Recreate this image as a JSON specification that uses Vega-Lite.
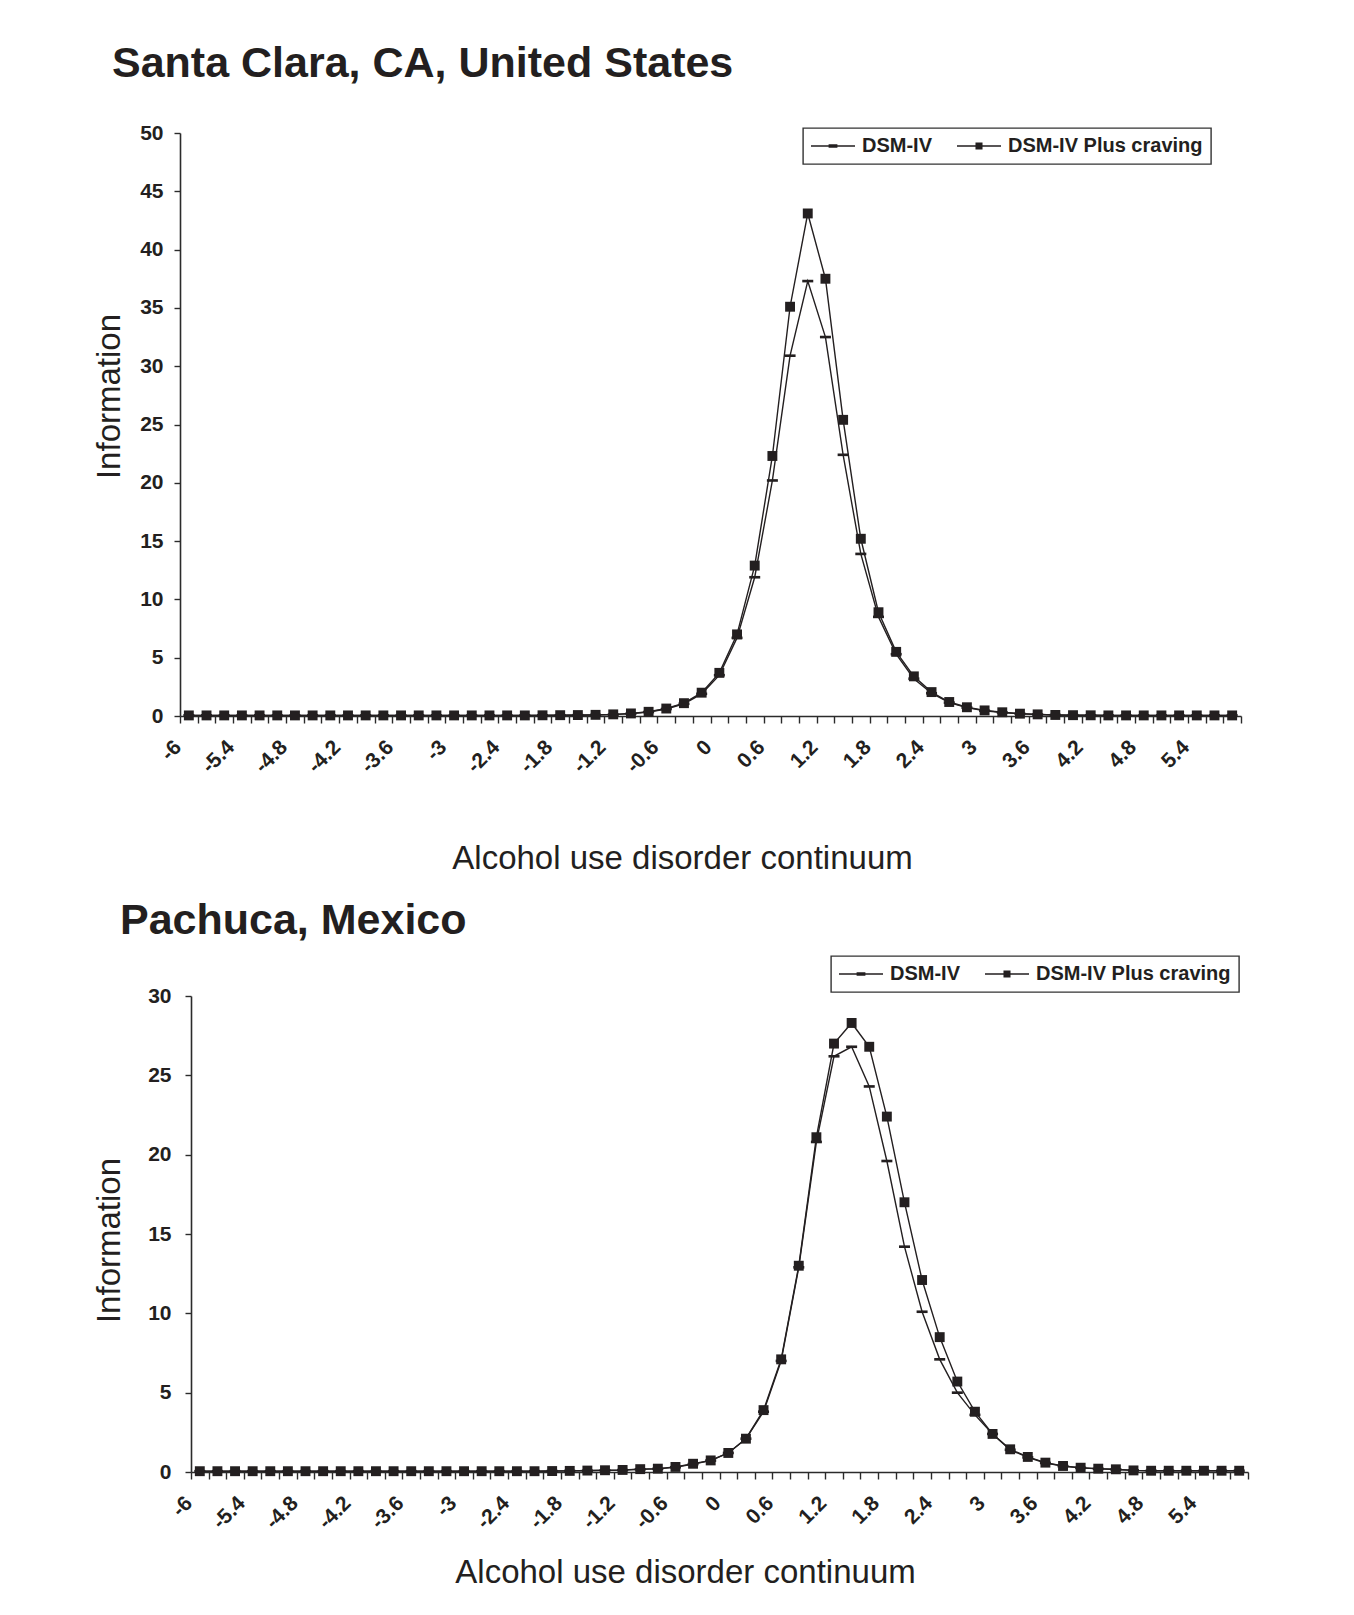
{
  "$schema": "https://vega.github.io/schema/vega-lite/v6.json",
  "background": "white",
  "padding": {"left": 93, "top": 43, "right": 10, "bottom": 10},
  "spacing": 25,
  "config": {
    "font": "Liberation Sans",
    "view": {"stroke": null},
    "axis": {
      "grid": false,
      "domainColor": "#2b2b2b", "domainWidth": 1.6,
      "tickColor": "#2b2b2b", "tickWidth": 1.4,
      "labelColor": "#231f20", "labelFont": "Liberation Sans", "labelFontWeight": "bold", "labelFontSize": 21,
      "titleColor": "#231f20", "titleFont": "Liberation Sans", "titleFontWeight": "normal", "titleFontSize": 33
    },
    "legend": {
      "strokeColor": "#333333", "strokeWidth": 1.4, "padding": 8,
      "labelFont": "Liberation Sans", "labelFontWeight": "bold", "labelFontSize": 20, "labelColor": "#231f20", "labelLimit": 400,
      "symbolOpacity": 1, "symbolFillColor": "#231f20", "symbolStrokeWidth": 0, "symbolSize": 1936,
      "labelOffset": 7, "columnPadding": 25, "clipHeight": 20
    }
  },
  "datasets": {
    "santa": [
      {"x": -6.0, "DSM-IV": 0.05, "DSM-IV Plus craving": 0.05},
      {"x": -5.8, "DSM-IV": 0.05, "DSM-IV Plus craving": 0.05},
      {"x": -5.6, "DSM-IV": 0.05, "DSM-IV Plus craving": 0.05},
      {"x": -5.4, "DSM-IV": 0.05, "DSM-IV Plus craving": 0.05},
      {"x": -5.2, "DSM-IV": 0.05, "DSM-IV Plus craving": 0.05},
      {"x": -5.0, "DSM-IV": 0.05, "DSM-IV Plus craving": 0.05},
      {"x": -4.8, "DSM-IV": 0.05, "DSM-IV Plus craving": 0.05},
      {"x": -4.6, "DSM-IV": 0.05, "DSM-IV Plus craving": 0.05},
      {"x": -4.4, "DSM-IV": 0.05, "DSM-IV Plus craving": 0.05},
      {"x": -4.2, "DSM-IV": 0.05, "DSM-IV Plus craving": 0.05},
      {"x": -4.0, "DSM-IV": 0.05, "DSM-IV Plus craving": 0.05},
      {"x": -3.8, "DSM-IV": 0.05, "DSM-IV Plus craving": 0.05},
      {"x": -3.6, "DSM-IV": 0.05, "DSM-IV Plus craving": 0.05},
      {"x": -3.4, "DSM-IV": 0.05, "DSM-IV Plus craving": 0.05},
      {"x": -3.2, "DSM-IV": 0.05, "DSM-IV Plus craving": 0.05},
      {"x": -3.0, "DSM-IV": 0.05, "DSM-IV Plus craving": 0.05},
      {"x": -2.8, "DSM-IV": 0.05, "DSM-IV Plus craving": 0.05},
      {"x": -2.6, "DSM-IV": 0.05, "DSM-IV Plus craving": 0.05},
      {"x": -2.4, "DSM-IV": 0.05, "DSM-IV Plus craving": 0.05},
      {"x": -2.2, "DSM-IV": 0.05, "DSM-IV Plus craving": 0.05},
      {"x": -2.0, "DSM-IV": 0.05, "DSM-IV Plus craving": 0.06},
      {"x": -1.8, "DSM-IV": 0.06, "DSM-IV Plus craving": 0.07},
      {"x": -1.6, "DSM-IV": 0.07, "DSM-IV Plus craving": 0.08},
      {"x": -1.4, "DSM-IV": 0.09, "DSM-IV Plus craving": 0.1},
      {"x": -1.2, "DSM-IV": 0.12, "DSM-IV Plus craving": 0.14},
      {"x": -1.0, "DSM-IV": 0.2, "DSM-IV Plus craving": 0.22},
      {"x": -0.8, "DSM-IV": 0.34, "DSM-IV Plus craving": 0.36},
      {"x": -0.6, "DSM-IV": 0.6, "DSM-IV Plus craving": 0.64},
      {"x": -0.4, "DSM-IV": 1.05, "DSM-IV Plus craving": 1.1},
      {"x": -0.2, "DSM-IV": 1.9, "DSM-IV Plus craving": 2.0},
      {"x": 0.0, "DSM-IV": 3.5, "DSM-IV Plus craving": 3.7},
      {"x": 0.2, "DSM-IV": 6.7, "DSM-IV Plus craving": 7.0},
      {"x": 0.4, "DSM-IV": 11.9, "DSM-IV Plus craving": 12.9},
      {"x": 0.6, "DSM-IV": 20.2, "DSM-IV Plus craving": 22.3},
      {"x": 0.8, "DSM-IV": 30.9, "DSM-IV Plus craving": 35.1},
      {"x": 1.0, "DSM-IV": 37.3, "DSM-IV Plus craving": 43.1},
      {"x": 1.2, "DSM-IV": 32.5, "DSM-IV Plus craving": 37.5},
      {"x": 1.4, "DSM-IV": 22.4, "DSM-IV Plus craving": 25.4},
      {"x": 1.6, "DSM-IV": 13.9, "DSM-IV Plus craving": 15.2},
      {"x": 1.8, "DSM-IV": 8.5, "DSM-IV Plus craving": 8.9},
      {"x": 2.0, "DSM-IV": 5.3, "DSM-IV Plus craving": 5.5},
      {"x": 2.2, "DSM-IV": 3.2, "DSM-IV Plus craving": 3.4},
      {"x": 2.4, "DSM-IV": 1.95, "DSM-IV Plus craving": 2.05},
      {"x": 2.6, "DSM-IV": 1.15, "DSM-IV Plus craving": 1.2},
      {"x": 2.8, "DSM-IV": 0.72, "DSM-IV Plus craving": 0.75},
      {"x": 3.0, "DSM-IV": 0.45, "DSM-IV Plus craving": 0.48},
      {"x": 3.2, "DSM-IV": 0.3, "DSM-IV Plus craving": 0.32},
      {"x": 3.4, "DSM-IV": 0.19, "DSM-IV Plus craving": 0.2},
      {"x": 3.6, "DSM-IV": 0.13, "DSM-IV Plus craving": 0.14},
      {"x": 3.8, "DSM-IV": 0.09, "DSM-IV Plus craving": 0.09},
      {"x": 4.0, "DSM-IV": 0.07, "DSM-IV Plus craving": 0.07},
      {"x": 4.2, "DSM-IV": 0.06, "DSM-IV Plus craving": 0.06},
      {"x": 4.4, "DSM-IV": 0.05, "DSM-IV Plus craving": 0.05},
      {"x": 4.6, "DSM-IV": 0.05, "DSM-IV Plus craving": 0.05},
      {"x": 4.8, "DSM-IV": 0.05, "DSM-IV Plus craving": 0.05},
      {"x": 5.0, "DSM-IV": 0.05, "DSM-IV Plus craving": 0.05},
      {"x": 5.2, "DSM-IV": 0.05, "DSM-IV Plus craving": 0.05},
      {"x": 5.4, "DSM-IV": 0.05, "DSM-IV Plus craving": 0.05},
      {"x": 5.6, "DSM-IV": 0.05, "DSM-IV Plus craving": 0.05},
      {"x": 5.8, "DSM-IV": 0.05, "DSM-IV Plus craving": 0.05}
    ],
    "pachuca": [
      {"x": -6.0, "DSM-IV": 0.05, "DSM-IV Plus craving": 0.05},
      {"x": -5.8, "DSM-IV": 0.05, "DSM-IV Plus craving": 0.05},
      {"x": -5.6, "DSM-IV": 0.05, "DSM-IV Plus craving": 0.05},
      {"x": -5.4, "DSM-IV": 0.05, "DSM-IV Plus craving": 0.05},
      {"x": -5.2, "DSM-IV": 0.05, "DSM-IV Plus craving": 0.05},
      {"x": -5.0, "DSM-IV": 0.05, "DSM-IV Plus craving": 0.05},
      {"x": -4.8, "DSM-IV": 0.05, "DSM-IV Plus craving": 0.05},
      {"x": -4.6, "DSM-IV": 0.05, "DSM-IV Plus craving": 0.05},
      {"x": -4.4, "DSM-IV": 0.05, "DSM-IV Plus craving": 0.05},
      {"x": -4.2, "DSM-IV": 0.05, "DSM-IV Plus craving": 0.05},
      {"x": -4.0, "DSM-IV": 0.05, "DSM-IV Plus craving": 0.05},
      {"x": -3.8, "DSM-IV": 0.05, "DSM-IV Plus craving": 0.05},
      {"x": -3.6, "DSM-IV": 0.05, "DSM-IV Plus craving": 0.05},
      {"x": -3.4, "DSM-IV": 0.05, "DSM-IV Plus craving": 0.05},
      {"x": -3.2, "DSM-IV": 0.05, "DSM-IV Plus craving": 0.05},
      {"x": -3.0, "DSM-IV": 0.05, "DSM-IV Plus craving": 0.05},
      {"x": -2.8, "DSM-IV": 0.05, "DSM-IV Plus craving": 0.05},
      {"x": -2.6, "DSM-IV": 0.05, "DSM-IV Plus craving": 0.05},
      {"x": -2.4, "DSM-IV": 0.05, "DSM-IV Plus craving": 0.05},
      {"x": -2.2, "DSM-IV": 0.05, "DSM-IV Plus craving": 0.05},
      {"x": -2.0, "DSM-IV": 0.06, "DSM-IV Plus craving": 0.06},
      {"x": -1.8, "DSM-IV": 0.07, "DSM-IV Plus craving": 0.07},
      {"x": -1.6, "DSM-IV": 0.08, "DSM-IV Plus craving": 0.09},
      {"x": -1.4, "DSM-IV": 0.1, "DSM-IV Plus craving": 0.11},
      {"x": -1.2, "DSM-IV": 0.12, "DSM-IV Plus craving": 0.13},
      {"x": -1.0, "DSM-IV": 0.17, "DSM-IV Plus craving": 0.18},
      {"x": -0.8, "DSM-IV": 0.2, "DSM-IV Plus craving": 0.21},
      {"x": -0.6, "DSM-IV": 0.3, "DSM-IV Plus craving": 0.32},
      {"x": -0.4, "DSM-IV": 0.5, "DSM-IV Plus craving": 0.52},
      {"x": -0.2, "DSM-IV": 0.72, "DSM-IV Plus craving": 0.73},
      {"x": 0.0, "DSM-IV": 1.2, "DSM-IV Plus craving": 1.2},
      {"x": 0.2, "DSM-IV": 2.1, "DSM-IV Plus craving": 2.1},
      {"x": 0.4, "DSM-IV": 3.8, "DSM-IV Plus craving": 3.9},
      {"x": 0.6, "DSM-IV": 7.0, "DSM-IV Plus craving": 7.1},
      {"x": 0.8, "DSM-IV": 12.9, "DSM-IV Plus craving": 13.0},
      {"x": 1.0, "DSM-IV": 20.8, "DSM-IV Plus craving": 21.1},
      {"x": 1.2, "DSM-IV": 26.2, "DSM-IV Plus craving": 27.0},
      {"x": 1.4, "DSM-IV": 26.8, "DSM-IV Plus craving": 28.3},
      {"x": 1.6, "DSM-IV": 24.3, "DSM-IV Plus craving": 26.8},
      {"x": 1.8, "DSM-IV": 19.6, "DSM-IV Plus craving": 22.4},
      {"x": 2.0, "DSM-IV": 14.2, "DSM-IV Plus craving": 17.0},
      {"x": 2.2, "DSM-IV": 10.1, "DSM-IV Plus craving": 12.1},
      {"x": 2.4, "DSM-IV": 7.1, "DSM-IV Plus craving": 8.5},
      {"x": 2.6, "DSM-IV": 5.0, "DSM-IV Plus craving": 5.7},
      {"x": 2.8, "DSM-IV": 3.6, "DSM-IV Plus craving": 3.8},
      {"x": 3.0, "DSM-IV": 2.4, "DSM-IV Plus craving": 2.4},
      {"x": 3.2, "DSM-IV": 1.4, "DSM-IV Plus craving": 1.43},
      {"x": 3.4, "DSM-IV": 0.92, "DSM-IV Plus craving": 0.95},
      {"x": 3.6, "DSM-IV": 0.57, "DSM-IV Plus craving": 0.59},
      {"x": 3.8, "DSM-IV": 0.37, "DSM-IV Plus craving": 0.38},
      {"x": 4.0, "DSM-IV": 0.26, "DSM-IV Plus craving": 0.27},
      {"x": 4.2, "DSM-IV": 0.2, "DSM-IV Plus craving": 0.21},
      {"x": 4.4, "DSM-IV": 0.16, "DSM-IV Plus craving": 0.17},
      {"x": 4.6, "DSM-IV": 0.1, "DSM-IV Plus craving": 0.1},
      {"x": 4.8, "DSM-IV": 0.08, "DSM-IV Plus craving": 0.08},
      {"x": 5.0, "DSM-IV": 0.08, "DSM-IV Plus craving": 0.08},
      {"x": 5.2, "DSM-IV": 0.08, "DSM-IV Plus craving": 0.08},
      {"x": 5.4, "DSM-IV": 0.08, "DSM-IV Plus craving": 0.08},
      {"x": 5.6, "DSM-IV": 0.08, "DSM-IV Plus craving": 0.08},
      {"x": 5.8, "DSM-IV": 0.08, "DSM-IV Plus craving": 0.08}
    ]
  },
  "vconcat": [
    {
      "width": 1061,
      "height": 583,
      "title": {"text": "Santa Clara, CA, United States", "anchor": "start", "frame": "group", "dx": -68, "offset": 36, "fontSize": 43, "fontWeight": "bold", "font": "Liberation Sans", "color": "#231f20"},
      "data": {"name": "santa"},
      "transform": [{"fold": ["DSM-IV", "DSM-IV Plus craving"], "as": ["series", "info"]}],
      "encoding": {
        "x": {
          "field": "x", "type": "quantitative",
          "scale": {"domain": [-6.1, 5.9], "nice": false, "zero": false},
          "axis": {
            "title": "Alcohol use disorder continuum",
            "values": [-6.1,-5.9,-5.7,-5.5,-5.3,-5.1,-4.9,-4.7,-4.5,-4.3,-4.1,-3.9,-3.7,-3.5,-3.3,-3.1,-2.9,-2.7,-2.5,-2.3,-2.1,-1.9,-1.7,-1.5,-1.3,-1.1,-0.9,-0.7,-0.5,-0.3,-0.1,0.1,0.3,0.5,0.7,0.9,1.1,1.3,1.5,1.7,1.9,2.1,2.3,2.5,2.7,2.9,3.1,3.3,3.5,3.7,3.9,4.1,4.3,4.5,4.7,4.9,5.1,5.3,5.5,5.7,5.9],
            "labelExpr": "(round((datum.value + 6.1) * 5) % 3 == 0 && datum.value < 5.8) ? toString(round((datum.value + 0.1) * 10) / 10) : ''",
            "labelAngle": -45, "labelAlign": "right", "labelBaseline": "top", "labelOffset": -10,
            "labelPadding": 13, "tickSize": 7, "labelOverlap": false, "labelBound": false, "labelFlush": false,
            "titleX": 502, "titleY": 152, "titleBaseline": "alphabetic", "titleAlign": "center"
          }
        },
        "y": {
          "field": "info", "type": "quantitative",
          "scale": {"domain": [0, 50], "nice": false},
          "axis": {
            "title": "Information",
            "values": [0,5,10,15,20,25,30,35,40,45,50],
            "tickSize": 6, "labelPadding": 11,
            "titleX": -61, "titleY": 263, "titleBaseline": "alphabetic", "titleAlign": "center", "titleAngle": -90
          }
        }
      },
      "layer": [
        {
          "mark": {"type": "line", "color": "#231f20", "strokeWidth": 1.4},
          "encoding": {"detail": {"field": "series"}}
        },
        {
          "mark": {"type": "point", "filled": true, "opacity": 1, "color": "#231f20", "size": 121},
          "encoding": {
            "shape": {
              "field": "series", "type": "nominal",
              "scale": {"domain": ["DSM-IV", "DSM-IV Plus craving"], "range": ["M-1,-0.24H1V0.24H-1Z", "M-0.9,-0.9H0.9V0.9H-0.9Z"]},
              "legend": null
            }
          }
        },
        {
          "mark": {"type": "point", "filled": true, "opacity": 0, "color": "#231f20", "size": 1936},
          "encoding": {
            "shape": {
              "field": "series", "type": "nominal",
              "scale": {"domain": ["DSM-IV", "DSM-IV Plus craving"], "range": ["M-1,-0.035H1V0.035H-1Z M-0.2,-0.075H0.2V0.075H-0.2Z", "M-1,-0.035H1V0.035H-1Z M-0.16,-0.16H0.16V0.16H-0.16Z"]},
              "legend": {"title": null, "orient": "none", "direction": "horizontal", "legendX": 623, "legendY": -5}
            }
          }
        }
      ],
      "resolve": {"scale": {"shape": "independent"}, "legend": {"shape": "independent"}}
    },
    {
      "width": 1068,
      "height": 476,
      "title": {"text": "Pachuca, Mexico", "anchor": "start", "frame": "group", "dx": -60, "offset": 12, "fontSize": 43, "fontWeight": "bold", "font": "Liberation Sans", "color": "#231f20"},
      "data": {"name": "pachuca"},
      "transform": [{"fold": ["DSM-IV", "DSM-IV Plus craving"], "as": ["series", "info"]}],
      "encoding": {
        "x": {
          "field": "x", "type": "quantitative",
          "scale": {"domain": [-6.1, 5.9], "nice": false, "zero": false, "range": [11, 1068]},
          "axis": {
            "title": "Alcohol use disorder continuum",
            "values": [-6.1,-5.9,-5.7,-5.5,-5.3,-5.1,-4.9,-4.7,-4.5,-4.3,-4.1,-3.9,-3.7,-3.5,-3.3,-3.1,-2.9,-2.7,-2.5,-2.3,-2.1,-1.9,-1.7,-1.5,-1.3,-1.1,-0.9,-0.7,-0.5,-0.3,-0.1,0.1,0.3,0.5,0.7,0.9,1.1,1.3,1.5,1.7,1.9,2.1,2.3,2.5,2.7,2.9,3.1,3.3,3.5,3.7,3.9,4.1,4.3,4.5,4.7,4.9,5.1,5.3,5.5,5.7,5.9],
            "labelExpr": "(round((datum.value + 6.1) * 5) % 3 == 0 && datum.value < 5.8) ? toString(round((datum.value + 0.1) * 10) / 10) : ''",
            "labelAngle": -45, "labelAlign": "right", "labelBaseline": "top", "labelOffset": -10,
            "labelPadding": 13, "tickSize": 7, "labelOverlap": false, "labelBound": false, "labelFlush": false,
            "titleX": 505, "titleY": 110, "titleBaseline": "alphabetic", "titleAlign": "center"
          }
        },
        "y": {
          "field": "info", "type": "quantitative",
          "scale": {"domain": [0, 30], "nice": false},
          "axis": {
            "title": "Information",
            "values": [0,5,10,15,20,25,30],
            "offset": -11,
            "tickSize": 6, "labelPadding": 14,
            "titleX": -72, "titleY": 244, "titleBaseline": "alphabetic", "titleAlign": "center", "titleAngle": -90
          }
        }
      },
      "layer": [
        {
          "mark": {"type": "line", "color": "#231f20", "strokeWidth": 1.4},
          "encoding": {"detail": {"field": "series"}}
        },
        {
          "mark": {"type": "point", "filled": true, "opacity": 1, "color": "#231f20", "size": 121},
          "encoding": {
            "shape": {
              "field": "series", "type": "nominal",
              "scale": {"domain": ["DSM-IV", "DSM-IV Plus craving"], "range": ["M-1,-0.24H1V0.24H-1Z", "M-0.9,-0.9H0.9V0.9H-0.9Z"]},
              "legend": null
            }
          }
        },
        {
          "mark": {"type": "point", "filled": true, "opacity": 0, "color": "#231f20", "size": 1936},
          "encoding": {
            "shape": {
              "field": "series", "type": "nominal",
              "scale": {"domain": ["DSM-IV", "DSM-IV Plus craving"], "range": ["M-1,-0.035H1V0.035H-1Z M-0.2,-0.075H0.2V0.075H-0.2Z", "M-1,-0.035H1V0.035H-1Z M-0.16,-0.16H0.16V0.16H-0.16Z"]},
              "legend": {"title": null, "orient": "none", "direction": "horizontal", "legendX": 651, "legendY": -40}
            }
          }
        }
      ],
      "resolve": {"scale": {"shape": "independent"}, "legend": {"shape": "independent"}}
    }
  ]
}
